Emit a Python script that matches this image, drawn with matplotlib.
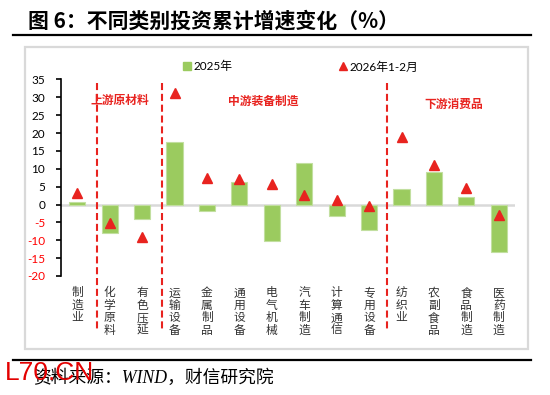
import matplotlib
matplotlib.use("Agg")
import matplotlib.pyplot as plt
from matplotlib.lines import Line2D
from matplotlib.patches import Rectangle

plt.rcParams['font.family'] = ['Lato', 'Noto Sans CJK SC', 'DejaVu Sans']

# data
categories = ['制造业', '化学原料', '有色压延', '运输设备', '金属制品', '通用设备', '电气机械',
              '汽车制造', '计算通信', '专用设备', '纺织业', '农副食品', '食品制造', '医药制造']
y2025 = [0.6, -8.0, -4.1, 17.5, -1.9, 6.2, -10.2, 11.6, -3.2, -7.1, 4.3, 9.2, 2.2, -13.4]
y2026 = [3.1, -5.2, -9.1, 31.2, 7.4, 7.1, 5.8, 2.7, 1.3, -0.5, 18.9, 11.1, 4.6, -2.9]
yticks = list(range(-20, 40, 5))
group_names = ['上游原材料', '中游装备制造', '下游消费品']
group_pos = [1.33, 5.75, 11.6]
divider_pos = [0.6, 2.62, 9.56]

green = '#9BCB5F'
red = '#E8231F'

fig = plt.figure(figsize=(5.5, 3.95), dpi=100)

# outer frame, title and rules
fig.patches.append(Rectangle((0.0455, 0.1165), 0.9145, 0.7646, transform=fig.transFigure,
                             facecolor='white', edgecolor='#D9D9D9', lw=1.6, zorder=-1))
fig.add_artist(Line2D([0.0236, 0.9655], [0.9114, 0.9114], color='black', lw=1.6))
fig.add_artist(Line2D([0.0236, 0.9655], [0.0886, 0.0886], color='black', lw=1.6))
fig.text(0.051, 0.947, '图 6：不同类别投资累计增速变化（%）', fontsize=15, fontweight='bold',
         family=['Noto Sans CJK SC'], va='center', ha='left')
fig.text(0.060, 0.043, '资料来源：WIND，财信研究院', fontsize=12.8, style='italic',
         family=['Liberation Serif', 'Noto Sans CJK SC'], va='center', ha='left')

ax = fig.add_axes([0.1109, 0.3013, 0.8255, 0.4975])
ax.patch.set_alpha(0)
x = list(range(len(categories)))
ax.axhline(0, color='#D9D9D9', lw=1.8, zorder=1)
ax.bar(x, y2025, width=0.5, color=green, edgecolor='#C2DFA0', lw=0.8, zorder=2, label='2025年')
ax.plot(x, y2026, ls='none', marker='^', ms=7, color=red, zorder=3, label='2026年1-2月')

ax.set_xlim(-0.5, len(categories) - 0.5)
ax.set_ylim(-20, 35)
ax.set_yticks(yticks)
ax.set_yticklabels([str(v) for v in yticks], fontsize=8.5)
for lab, v in zip(ax.get_yticklabels(), yticks):
    lab.set_color('#FF0000' if v < 0 else 'black')
ax.tick_params(axis='y', direction='out', length=3.5, width=1.2, pad=8)
ax.set_xticks(x)
ax.set_xticklabels(['\n'.join(c) for c in categories], fontsize=8.5, color='#333333',
                   family=['Noto Sans CJK SC'], linespacing=0.95, va='top')
ax.tick_params(axis='x', length=0, pad=7.5)
for s in ['top', 'right', 'bottom']:
    ax.spines[s].set_visible(False)
ax.spines['left'].set_linewidth(1.2)

# group dividers and names
for p in divider_pos:
    ax.plot([p, p], [34.0, -35.3], color=red, lw=1.5, dashes=(3.4, 1.8), clip_on=False, zorder=4)
for name, p, yy in zip(group_names, group_pos, [29.2, 28.8, 28.1]):
    ax.text(p, yy, name, color=red, fontsize=8.5, fontweight='bold', ha='center', va='center',
            family=['Noto Sans CJK SC'], zorder=5)

h = [Line2D([], [], ls='none', marker='s', ms=5.5, color=green),
     Line2D([], [], ls='none', marker='^', ms=6, color=red)]
fig.legend(h, ['2025年', '2026年1-2月'], loc='center', bbox_to_anchor=(0.547, 0.831), ncol=2,
           frameon=False, fontsize=8.5, handlelength=0.6, handletextpad=0.3, columnspacing=9.0)

fig.text(0.008, 0.056, 'L70.CN', fontsize=19, color='#E30000', family=['Liberation Sans'],
         va='center', ha='left', zorder=10)

fig.savefig('out.png', dpi=100)
